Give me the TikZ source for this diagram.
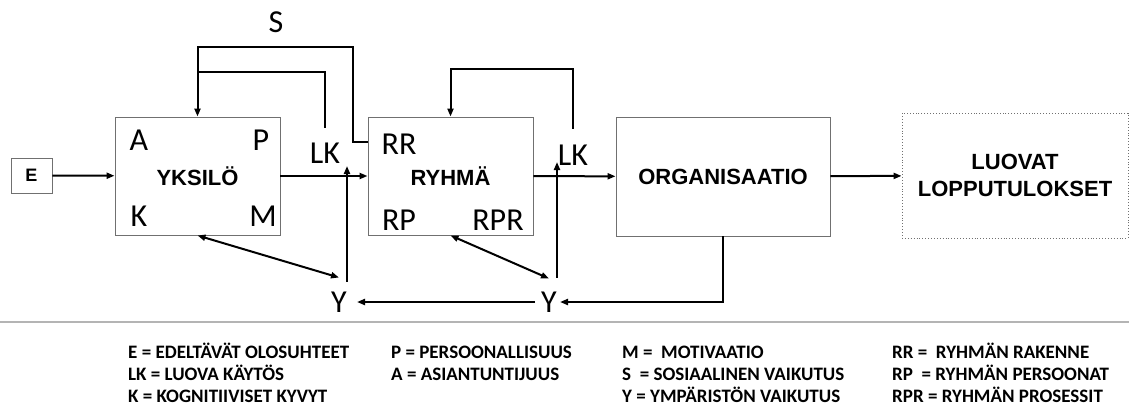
\documentclass[tikz,border=0pt]{standalone}
\usepackage{fontspec}
\setmainfont{Carlito}
\newfontfamily\headfont{Liberation Sans}
\usepackage{tikz}
\usetikzlibrary{arrows.meta,positioning,calc}
\definecolor{BoxGray}{HTML}{707070}
\definecolor{RuleGray}{HTML}{B4B4B4}

\begin{document}
\begin{tikzpicture}[x=1pt, y=-1pt,
    box/.style={draw=BoxGray, line width=0.9pt, inner sep=0pt, align=center,
      minimum width=165pt, minimum height=118pt, font=\headfont\bfseries\fontsize{22}{27}\selectfont},
    letter/.style={inner sep=0pt, font=\fontsize{32}{36}\selectfont},
    legend/.style={anchor=base west, inner sep=0pt, font=\bfseries\fontsize{19}{22}\selectfont},
    arrow/.style={-{Triangle[length=8pt,width=6pt]}, line width=2pt},
    twoway/.style={{Triangle[length=8pt,width=6pt]}-{Triangle[length=8pt,width=6pt]}, line width=2pt},
    link/.style={line width=2pt}
  ]
    \useasboundingbox (0,0) rectangle (1129,407);

    % boxes
    \node[box, minimum width=41pt, minimum height=35pt, font=\headfont\bfseries\fontsize{18}{20}\selectfont] (E) at (31.5,175.5) {E};
    \node[box] (yksilo) at (197.5,176) {YKSILÖ};
    \node[box] (ryhma) at (450.5,176) {RYHMÄ};
    \node[box, minimum width=214pt, minimum height=119pt] (org) at (723,176.5) {ORGANISAATIO};
    \node[box, dotted, minimum width=226pt, minimum height=125pt] (luovat) at (1015,175.5) {LUOVAT\\LOPPUTULOKSET};

    % letters in the boxes
    \node[letter] (A) at (139,140) {A};
    \node[letter] (P) at (261,140) {P};
    \node[letter] (K) at (139,216) {K};
    \node[letter] (M) at (263,216) {M};
    \node[letter] (RR) at (399,144) {RR};
    \node[letter] (RP) at (399,220) {RP};
    \node[letter] (RPR) at (498,220) {RPR};

    % labels on the links
    \node[letter] (lk1) at (325,153) {LK};
    \node[letter] (lk2) at (573,155) {LK};
    \node[letter] (S) at (276,22) {S};
    \node[letter] (y1) at (339,302) {Y};
    \node[letter] (y2) at (549,302) {Y};

    % main chain
    \draw[arrow] (E) -- (yksilo);
    \draw[arrow] (yksilo) -- (ryhma);
    \draw[arrow] (ryhma) -- (org);
    \draw[arrow] (org) -- (luovat);

    % feedback loops
    \draw[arrow] ([yshift=-25pt]ryhma.north west) -- ++(-15,0) |- ([yshift=70pt]yksilo.north) -- (yksilo.north);
    \draw[link] ([yshift=15pt]lk1.north) |- ([yshift=45pt]yksilo.north);
    \draw[arrow] ([yshift=16pt]lk2.north) |- ([yshift=48pt]ryhma.north) -- (ryhma.north);

    % environment
    \draw[arrow] ([yshift=10pt]y1.north east) -- ([yshift=10pt]y1.north east |- yksilo.east);
    \draw[arrow] ([yshift=14pt]y2.north east) -- ([yshift=14pt]y2.north east |- ryhma.east);
    \draw[twoway] (yksilo.south) -- ([yshift=14pt]y1.north);
    \draw[twoway] (ryhma.south) -- ([yshift=13pt]y2.north);
    \draw[arrow] (org.south) |- ([xshift=3pt]y2.east);
    \draw[arrow] ([xshift=-6pt]y2.west) -- ([xshift=10pt]y1.east);

    \draw[RuleGray, line width=1.5pt] (0,322) -- (1129,322);

    % legend
    \node[legend] (lgE) at (128,358) {E = EDELTÄVÄT OLOSUHTEET};
    \node[legend] (lgLK) at (128,380) {LK = LUOVA KÄYTÖS};
    \node[legend] (lgK) at (128,402) {K = KOGNITIIVISET KYVYT};
    \node[legend] (lgP) at (391,358) {P = PERSOONALLISUUS};
    \node[legend] (lgA) at (391,380) {A = ASIANTUNTIJUUS};
    \node[legend] (lgM) at (622,358) {M = ~MOTIVAATIO};
    \node[legend] (lgS) at (622,380) {S ~= SOSIAALINEN VAIKUTUS};
    \node[legend] (lgY) at (622,402) {Y = YMPÄRISTÖN VAIKUTUS};
    \node[legend] (lgRR) at (892,358) {RR = ~RYHMÄN RAKENNE};
    \node[legend] (lgRP) at (892,380) {RP ~= RYHMÄN PERSOONAT};
    \node[legend] (lgRPR) at (892,402) {RPR = RYHMÄN PROSESSIT};
  \end{tikzpicture}
\end{document}
